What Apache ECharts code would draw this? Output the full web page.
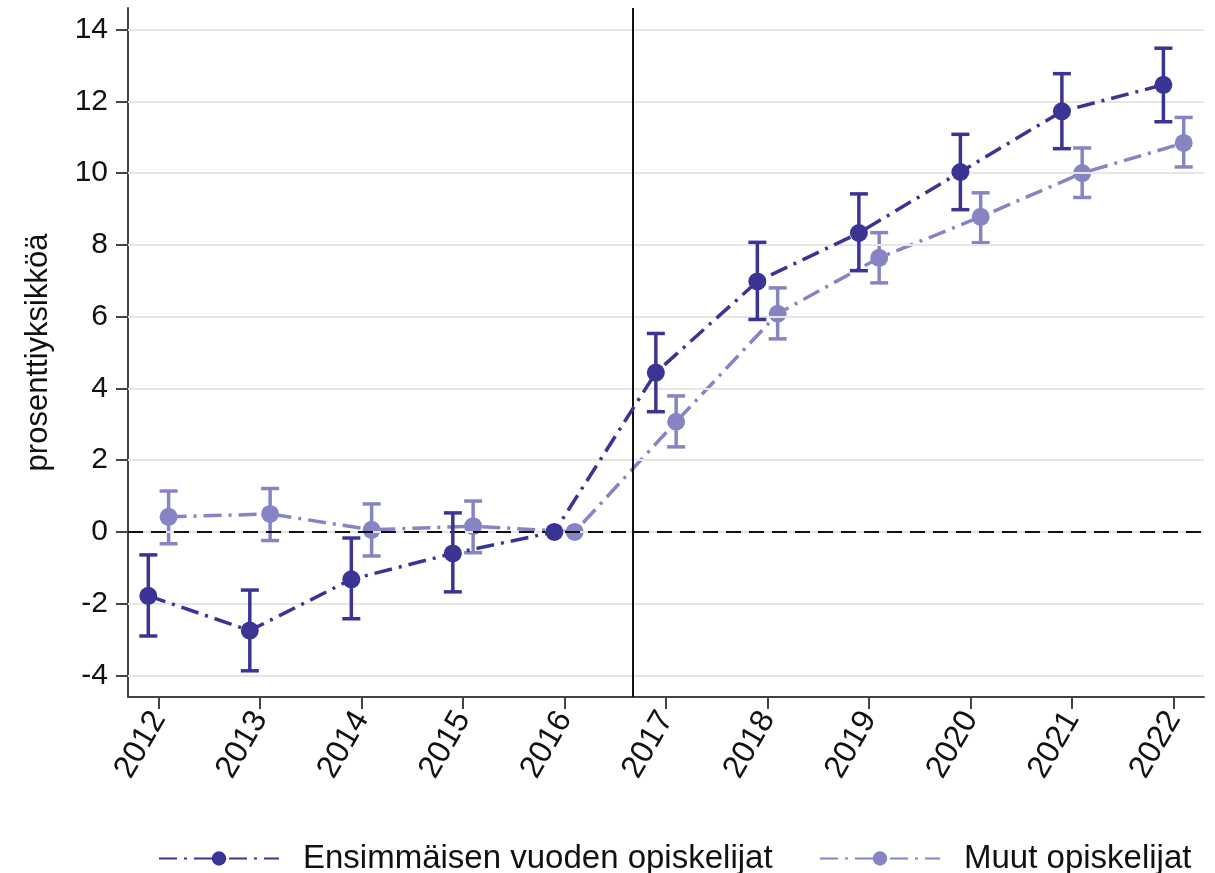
<!DOCTYPE html>
<html>
<head>
<meta charset="utf-8">
<script src="https://cdn.jsdelivr.net/npm/echarts@6/dist/echarts.min.js"></script>
<style>
html,body{margin:0;padding:0;background:#fff;}
#chart{width:1215px;height:873px;}
</style>
</head>
<body>
<div id="chart"></div>
<script>
// ---- data ----
const years = [2012, 2013, 2014, 2015, 2016, 2017, 2018, 2019, 2020, 2021, 2022];
const firstYearEst = [-1.78, -2.75, -1.32, -0.6, 0, 4.44, 6.98, 8.33, 10.03, 11.72, 12.46];
const firstYearLow = [-2.9, -3.87, -2.42, -1.67, null, 3.35, 5.92, 7.28, 8.98, 10.68, 11.43];
const firstYearHigh = [-0.64, -1.62, -0.17, 0.53, null, 5.53, 8.07, 9.42, 11.08, 12.77, 13.48];
const otherEst = [0.42, 0.5, 0.06, 0.16, 0, 3.07, 6.08, 7.64, 8.78, 10.0, 10.84];
const otherLow = [-0.33, -0.24, -0.67, -0.58, null, 2.37, 5.38, 6.94, 8.06, 9.32, 10.17];
const otherHigh = [1.14, 1.21, 0.78, 0.86, null, 3.79, 6.8, 8.34, 9.45, 10.7, 11.55];
const yTicks = [-4, -2, 0, 2, 4, 6, 8, 10, 12, 14];
const reformLine = 2016.667;
const seriesNames = ['Ensimmäisen vuoden opiskelijat', 'Muut opiskelijat'];
const yAxisTitle = 'prosenttiyksikköä';

// ---- styles ----
const DARK = '#3a3594';
const LIGHT = '#8784c3';
const FONT = 'Liberation Sans, Arial, sans-serif';
const OFFSET = 0.1;
const dashDot = [18, 7, 3, 7];

function pts(est, off) {
  return years.map((y, i) => [y + off, est[i]]);
}
function bars(lo, hi, off) {
  const out = [];
  years.forEach((y, i) => {
    if (lo[i] !== null && hi[i] !== null) out.push([y + off, lo[i], hi[i]]);
  });
  return out;
}
function errRender(color) {
  return function (params, api) {
    const x = api.value(0), lo = api.value(1), hi = api.value(2);
    const a = api.coord([x, hi]), b = api.coord([x, lo]);
    const w = 9;
    const st = { stroke: color, lineWidth: 3.5, lineCap: 'butt' };
    return {
      type: 'group',
      children: [
        { type: 'line', shape: { x1: a[0], y1: a[1], x2: b[0], y2: b[1] }, style: st },
        { type: 'line', shape: { x1: a[0] - w, y1: a[1], x2: a[0] + w, y2: a[1] }, style: st },
        { type: 'line', shape: { x1: b[0] - w, y1: b[1], x2: b[0] + w, y2: b[1] }, style: st }
      ]
    };
  };
}

const chart = echarts.init(document.getElementById('chart'), null, { renderer: 'canvas' });
chart.setOption({
  animation: false,
  backgroundColor: '#fff',
  textStyle: { fontFamily: FONT },
  grid: { left: 128, top: 8, width: 1076, height: 689, containLabel: false },
  legend: [
    {
      data: [seriesNames[0]], left: 153, top: 837, itemWidth: 120, itemHeight: 18,
      textStyle: { fontSize: 33, color: '#111', fontFamily: FONT, padding: [0, 0, 0, 19] }
    },
    {
      data: [seriesNames[1]], left: 814, top: 837, itemWidth: 120, itemHeight: 18,
      textStyle: { fontSize: 33, color: '#111', fontFamily: FONT, padding: [0, 0, 0, 19] }
    }
  ],
  xAxis: {
    type: 'value', min: 2011.7, max: 2022.3,
    axisLine: { show: true, onZero: false, lineStyle: { color: '#444', width: 2 } },
    axisTick: { show: true, length: 12, customValues: years, lineStyle: { color: '#444', width: 2 } },
    axisLabel: {
      customValues: years, rotate: 60, margin: 17, fontSize: 32, color: '#111', fontFamily: FONT,
      formatter: v => String(v)
    },
    splitLine: { show: false }
  },
  yAxis: {
    type: 'value', min: -4.6, max: 14.6,
    name: yAxisTitle, nameLocation: 'middle', nameGap: 74, nameRotate: 90,
    nameTextStyle: { fontSize: 31, color: '#111', fontFamily: FONT },
    axisLine: { show: true, onZero: false, lineStyle: { color: '#444', width: 2 } },
    axisTick: { show: true, length: 12, customValues: yTicks, lineStyle: { color: '#444', width: 2 } },
    axisLabel: { customValues: yTicks, margin: 20, fontSize: 30, color: '#111', fontFamily: FONT },
    splitLine: { show: false }
  },
  series: [
    {
      name: '_grid', type: 'line', data: [], z: 0, silent: true,
      markLine: {
        silent: true, symbol: 'none', animation: false,
        label: { show: false },
        lineStyle: { color: '#e6e6e6', width: 2, type: 'solid' },
        data: yTicks.map(v => ({ yAxis: v }))
      }
    },
    {
      name: '_refs', type: 'line', data: [], z: 1, silent: true,
      markLine: {
        silent: true, symbol: 'none', animation: false,
        label: { show: false },
        data: [
          { yAxis: 0, lineStyle: { color: '#111', width: 2, type: [15, 8] } },
          { xAxis: reformLine, lineStyle: { color: '#111', width: 2, type: 'solid' } }
        ]
      }
    },
    {
      name: '_errOther', type: 'custom', z: 3, silent: true,
      renderItem: errRender(LIGHT), data: bars(otherLow, otherHigh, OFFSET),
      encode: { x: 0, y: [1, 2] }
    },
    {
      name: seriesNames[1], type: 'line', z: 4, data: pts(otherEst, OFFSET),
      symbol: 'circle', symbolSize: 18, showSymbol: true,
      itemStyle: { color: LIGHT },
      lineStyle: { color: LIGHT, width: 3.5, type: dashDot }
    },
    {
      name: '_errFirst', type: 'custom', z: 5, silent: true,
      renderItem: errRender(DARK), data: bars(firstYearLow, firstYearHigh, -OFFSET),
      encode: { x: 0, y: [1, 2] }
    },
    {
      name: seriesNames[0], type: 'line', z: 6, data: pts(firstYearEst, -OFFSET),
      symbol: 'circle', symbolSize: 18, showSymbol: true,
      itemStyle: { color: DARK },
      lineStyle: { color: DARK, width: 3.5, type: dashDot }
    }
  ]
});
</script>
</body>
</html>
